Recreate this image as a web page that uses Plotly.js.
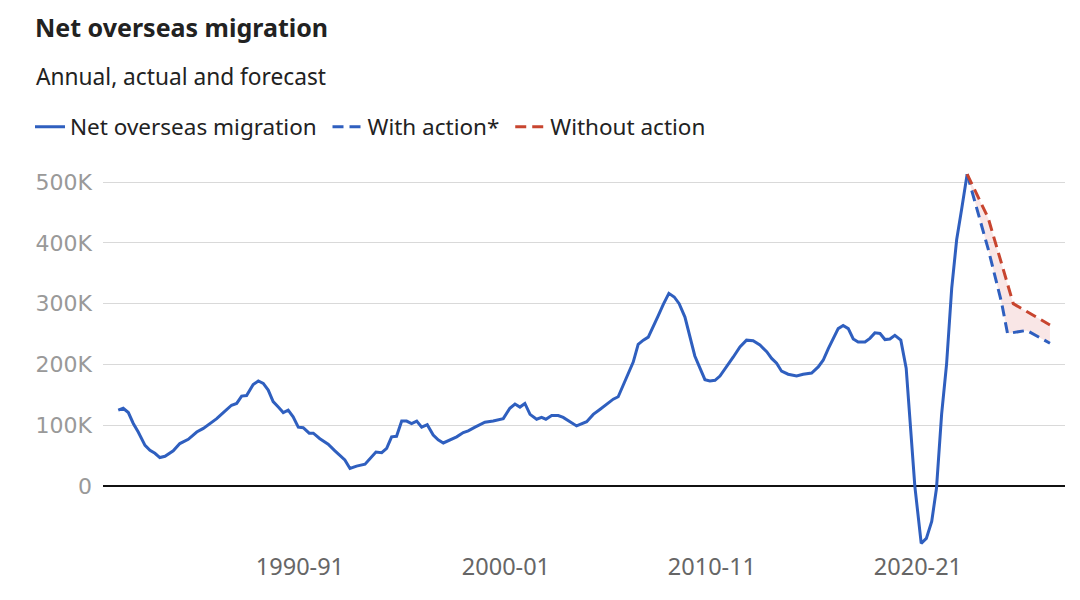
<!DOCTYPE html>
<html>
<head>
<meta charset="utf-8">
<script src="https://cdn.plot.ly/plotly-3.0.1.min.js"></script>
<style>
  html, body { margin: 0; padding: 0; background: #fff; }
  #chart { width: 1080px; height: 600px; }
</style>
</head>
<body>
<div id="chart"></div>
<script>
// Actual net overseas migration (x: year position, y: persons)
const actualYears = [1981.18,1981.42,1981.67,1981.91,1982.15,1982.48,1982.72,1982.96,1983.20,1983.45,1983.85,1984.17,1984.58,1984.99,1985.31,1985.63,1985.96,1986.28,1986.68,1986.93,1987.17,1987.41,1987.73,1987.98,1988.22,1988.46,1988.70,1988.95,1989.19,1989.43,1989.67,1989.92,1990.16,1990.45,1990.65,1990.97,1991.37,1991.70,1992.02,1992.18,1992.43,1992.75,1993.16,1993.40,1993.69,1993.97,1994.21,1994.45,1994.69,1994.94,1995.18,1995.42,1995.67,1995.91,1996.18,1996.47,1996.71,1996.96,1997.28,1997.61,1997.93,1998.17,1998.50,1998.98,1999.38,1999.87,2000.19,2000.44,2000.68,2000.92,2001.17,2001.49,2001.73,2001.94,2002.22,2002.54,2002.78,2003.11,2003.43,2003.92,2004.24,2004.56,2004.89,2005.21,2005.45,2005.69,2005.94,2006.18,2006.42,2006.67,2006.91,2007.15,2007.39,2007.64,2007.91,2008.17,2008.41,2008.69,2008.93,2009.17,2009.42,2009.66,2009.90,2010.15,2010.39,2010.71,2011.03,2011.36,2011.68,2012.00,2012.33,2012.66,2012.90,2013.14,2013.38,2013.70,2014.11,2014.43,2014.84,2015.16,2015.40,2015.65,2015.89,2016.13,2016.37,2016.62,2016.86,2017.10,2017.43,2017.67,2017.91,2018.16,2018.40,2018.64,2018.88,2019.17,2019.43,2019.64,2019.85,2020.16,2020.41,2020.67,2020.90,2021.15,2021.39,2021.64,2021.88,2022.12,2022.39];
const actualValues = [125000,128000,121000,103000,89000,67000,59000,54000,47000,49000,58000,70000,77000,89000,95000,103000,111000,121000,133000,136000,148000,149000,167000,173000,169000,158000,139000,130000,121000,125000,114000,97000,96000,87000,87000,78000,69000,58000,48000,43000,29000,33000,36000,45000,56000,55000,62000,81000,82000,107000,107000,103000,107000,97000,101000,84000,76000,71000,76000,81000,88000,91000,97000,105000,107000,111000,128000,135000,130000,136000,118000,110000,113000,110000,116000,116000,113000,106000,99000,106000,118000,126000,134000,143000,147000,166000,183000,204000,233000,240000,245000,264000,280000,299000,317000,311000,300000,278000,246000,214000,194000,175000,173000,174000,181000,196000,212000,229000,240000,239000,232000,221000,210000,202000,189000,184000,181000,184000,186000,196000,207000,226000,243000,259000,264000,259000,242000,237000,237000,243000,252000,251000,241000,242000,248000,240000,194000,95000,0,-94000,-86000,-58000,-4000,118000,200000,325000,405000,455000,513000];

// Forecast: with action
const withYears  = [2022.39, 2023.41, 2024.06, 2024.35, 2025.28, 2026.41];
const withValues = [513000, 390000, 302000, 251000, 256000, 235000];

// Forecast: without action
const withoutYears  = [2022.39, 2023.41, 2024.63, 2026.41];
const withoutValues = [513000, 441000, 300000, 265000];

// Axis ticks
const xTickVals = [1990, 2000, 2010, 2020];
const xTickText = ["1990-91", "2000-01", "2010-11", "2020-21"];
const yTickVals = [0, 100000, 200000, 300000, 400000, 500000];
const yTickText = ["0", "100K", "200K", "300K", "400K", "500K"];

// Series names
const seriesNames = ["Net overseas migration", "With action*", "Without action"];

const BLUE = "#2f5fbf";
const RED = "#c8452f";
const FONT = "'Noto Sans', sans-serif";
const NBSP = "\u00A0";

// Shaded band between forecasts
const bandX = withoutYears.concat(withYears.slice().reverse());
const bandY = withoutValues.concat(withValues.slice().reverse());

const traces = [
  {
    x: bandX, y: bandY, type: "scatter", mode: "lines",
    fill: "toself", fillcolor: "rgba(226,140,140,0.22)",
    line: { width: 0 }, hoverinfo: "skip", showlegend: false
  },
  {
    x: actualYears, y: actualValues, type: "scatter", mode: "lines",
    name: seriesNames[0] + NBSP,
    line: { color: BLUE, width: 3 }
  },
  {
    x: withYears, y: withValues, type: "scatter", mode: "lines",
    name: seriesNames[1] + NBSP,
    line: { color: BLUE, width: 3, dash: "11px,6px" }
  },
  {
    x: withoutYears, y: withoutValues, type: "scatter", mode: "lines",
    name: seriesNames[2],
    line: { color: RED, width: 3, dash: "11px,6px" }
  }
];

const layout = {
  width: 1080, height: 600,
  paper_bgcolor: "#fff", plot_bgcolor: "#fff",
  margin: { l: 103, r: 15, t: 165, b: 50 },
  font: { family: FONT, color: "#222" },
  title: {
    text: "<b>Net overseas migration</b>",
    font: { family: FONT, size: 25, color: "#222" },
    xref: "container", yref: "container",
    x: 35 / 1080, xanchor: "left",
    y: 1 - 28 / 600, yanchor: "middle"
  },
  annotations: [
    {
      text: "Annual, actual and forecast",
      xref: "paper", yref: "paper",
      x: (34 - 103) / 962, xanchor: "left",
      y: 1 + (165 - 77) / 385, yanchor: "middle",
      showarrow: false,
      font: { family: FONT, size: 22.7, color: "#222" }
    }
  ],
  showlegend: true,
  legend: {
    orientation: "h",
    x: (30 - 103) / 962, xanchor: "left",
    y: 1 + (165 - 127) / 385, yanchor: "middle",
    font: { family: FONT, size: 22.5, color: "#222" },
    itemwidth: 30,
    traceorder: "normal"
  },
  xaxis: {
    range: [1980.44, 2027.14],
    tickvals: xTickVals, ticktext: xTickText,
    showgrid: false, zeroline: false, showline: false,
    ticks: "",
    tickfont: { family: FONT, size: 23.5, color: "#666" },
    fixedrange: true
  },
  yaxis: {
    range: [-105000, 528000],
    tickvals: yTickVals, ticktext: yTickText,
    showgrid: true, gridcolor: "#d9d9d9", gridwidth: 1,
    zeroline: true, zerolinecolor: "#111", zerolinewidth: 1.5,
    showline: false, ticks: "",
    ticklabelstandoff: 10,
    tickfont: { family: "'DejaVu Sans', sans-serif", size: 22, color: "#999" },
    fixedrange: true
  }
};

Plotly.newPlot("chart", traces, layout, { displayModeBar: false, staticPlot: true });
</script>
</body>
</html>
